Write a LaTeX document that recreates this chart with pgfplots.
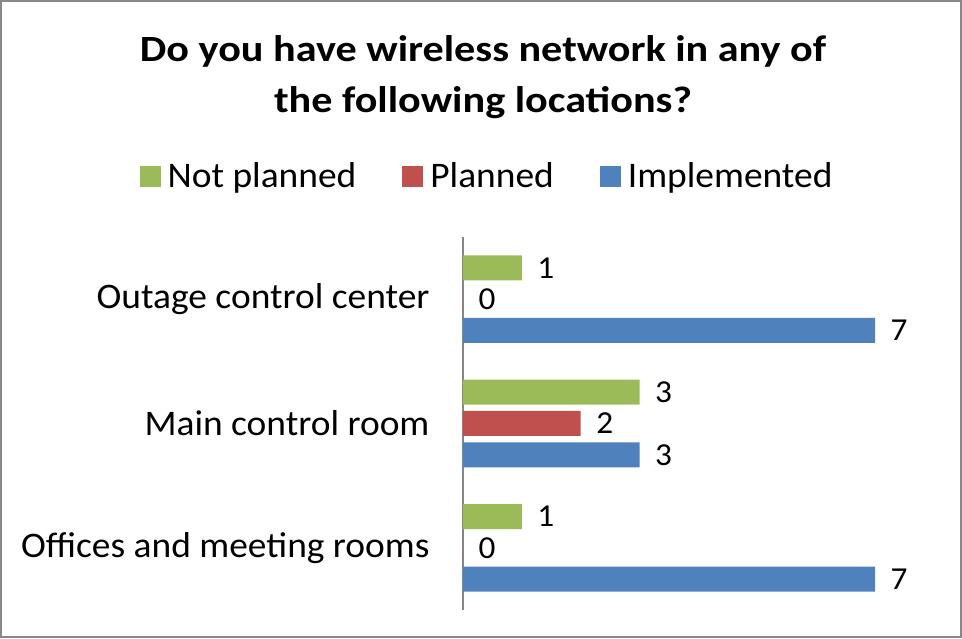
\documentclass[border=0pt]{standalone}
\usepackage{pgfplots}
\pgfplotsset{compat=1.18}
\usepackage{fontspec}
\setmainfont{Carlito}[FakeStretch=1.04]
\newfontfamily\titlefont{Carlito}[FakeStretch=1.14]
\definecolor{npgreen}{HTML}{9BBB59}
\definecolor{plred}{HTML}{C0504D}
\definecolor{imblue}{HTML}{4F81BD}
\definecolor{framegray}{HTML}{888888}
\definecolor{axisgray}{HTML}{868686}
\begin{document}
\begin{tikzpicture}[x=1pt,y=1pt]
\draw[framegray, line width=2pt] (1,1) rectangle (961,637);
\begin{axis}[
  at={(463pt,28pt)}, anchor=south west,
  scale only axis, width=471pt, height=373pt,
  xmin=0, xmax=8, ymin=-0.5, ymax=2.5,
  axis x line=none,
  axis y line=left,
  y axis line style={-, axisgray, line width=1.5pt},
  ytick={0,1,2},
  yticklabels={Offices and meeting rooms, Main control room, Outage control center},
  major tick length=0pt,
  yticklabel style={font=\fontsize{36}{42}\selectfont, xshift=-30pt},
  /pgf/number format/assume math mode=true,
  xbar, bar width=25pt,
  nodes near coords,
  nodes near coords style={font=\fontsize{32}{36}\selectfont, anchor=west, xshift=12pt},
  legend style={at={(0.0510,1.1635)}, anchor=center, draw=none, fill=none,
    legend columns=3, font=\fontsize{36}{42}\selectfont,
    /tikz/every odd column/.append style={column sep=5pt},
    /tikz/every even column/.append style={column sep=44pt}},
  legend image code/.code={\fill[#1] (0pt,-10.5pt) rectangle (21pt,10.5pt);},
]
\addplot[fill=npgreen, draw=none, bar shift=31.3pt] coordinates {(1,0) (3,1) (1,2)};
\addplot[fill=plred, draw=none, bar shift=0pt] coordinates {(0,0) (2,1) (0,2)};
\addplot[fill=imblue, draw=none, bar shift=-31.3pt] coordinates {(7,0) (3,1) (7,2)};
\legend{Not planned, Planned, Implemented}
\end{axis}
\node[anchor=base, font=\titlefont\bfseries\fontsize{37}{44}\selectfont] at (483,576) {Do you have wireless network in any of};
\node[anchor=base, font=\titlefont\bfseries\fontsize{37}{44}\selectfont] at (483,525) {the following locations?};
\end{tikzpicture}
\end{document}
